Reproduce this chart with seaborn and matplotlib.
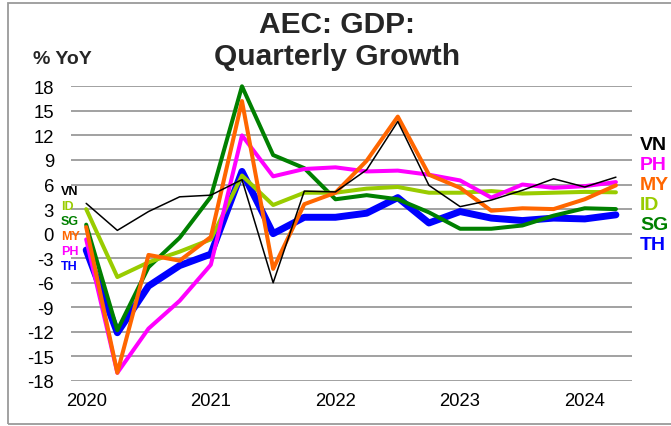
import numpy as np
import pandas as pd
import seaborn as sns
import matplotlib.pyplot as plt
from matplotlib.patches import Rectangle

# quarterly GDP growth, % YoY, 2020Q1 .. 2024Q2
quarters = [f"{y}Q{q}" for y in range(2020, 2025) for q in range(1, 5)][:18]
vn = [3.7, 0.4, 2.7, 4.5, 4.7, 6.6, -6.0, 5.2, 5.1, 7.8, 13.7, 5.9, 3.3, 4.1, 5.3, 6.7, 5.7, 6.9]
ph = [-0.7, -17.0, -11.6, -8.2, -3.8, 12.0, 7.0, 7.9, 8.1, 7.6, 7.7, 7.2, 6.5, 4.4, 6.0, 5.6, 5.8, 6.3]
my = [0.8, -17.0, -2.6, -3.3, -0.4, 16.2, -4.3, 3.6, 5.0, 8.9, 14.3, 7.2, 5.6, 2.8, 3.1, 3.0, 4.2, 5.9]
idn = [3.0, -5.3, -3.5, -2.2, -0.7, 7.1, 3.5, 5.0, 5.0, 5.5, 5.7, 5.0, 5.0, 5.2, 4.9, 5.0, 5.1, 5.05]
sg = [1.1, -11.8, -4.1, -0.5, 4.5, 18.0, 9.6, 8.0, 4.2, 4.7, 4.2, 2.6, 0.6, 0.6, 1.0, 2.2, 3.1, 3.0]
th = [-2.0, -12.1, -6.4, -3.9, -2.5, 7.6, 0.0, 2.0, 2.0, 2.5, 4.4, 1.3, 2.7, 1.9, 1.6, 1.9, 1.8, 2.3]

year_labels = ["2020", "2021", "2022", "2023", "2024"]
y_ticks = list(range(-18, 19, 3))

series = {"VN": vn, "PH": ph, "MY": my, "ID": idn, "SG": sg, "TH": th}
colors = {"VN": "#000000", "PH": "#FF00FF", "MY": "#FF6600",
          "ID": "#99CC00", "SG": "#008000", "TH": "#0000FF"}
widths = {"VN": 1.1, "PH": 2.9, "MY": 2.9, "ID": 2.9, "SG": 2.9, "TH": 5.0}
draw_order = ["TH", "SG", "ID", "PH", "MY", "VN"]
right_order = ["VN", "PH", "MY", "ID", "SG", "TH"]
left_order = ["VN", "ID", "SG", "MY", "PH", "TH"]

df = pd.DataFrame(series)
df["x"] = np.arange(len(quarters))

sns.set_style("white")
plt.rcParams["font.family"] = ["Liberation Sans", "DejaVu Sans"]

W, H = 671, 427
fig = plt.figure(figsize=(W / 100, H / 100), dpi=100)
ax = fig.add_axes([70.6 / W, 1 - 382 / H, (631.5 - 70.6) / W, (382 - 87.3) / H])

for name in draw_order:
    sns.lineplot(data=df, x="x", y=name, ax=ax, color=colors[name],
                 linewidth=widths[name], clip_on=False, zorder=3)

ax.set_xlim(-0.5, len(quarters) - 0.5)
ax.set_ylim(-18, 18)
ax.set_yticks(y_ticks)
ax.set_yticklabels([str(t) for t in y_ticks])
ax.set_xticks(np.arange(0, len(quarters), 4))
ax.set_xticklabels(year_labels)
ax.set_xlabel("")
ax.set_ylabel("")
ax.tick_params(axis="both", length=0, labelsize=13.3, colors="black")
ax.tick_params(axis="y", pad=12)
ax.tick_params(axis="x", pad=8)
ax.yaxis.grid(True, color="#9a9a9a", linewidth=1.3)
ax.set_axisbelow(True)
for s in ax.spines.values():
    s.set_visible(False)

# outer frame
fig.patches.append(Rectangle((7.5 / W, 1 - 425 / H), (W + 5 - 7.5) / W, (425 - 3.5) / H,
                             transform=fig.transFigure, fill=False,
                             edgecolor="#9a9a9a", linewidth=1.3))

fig.text(337 / W, 1 - 25 / H, "AEC: GDP:", ha="center", va="center",
         fontsize=21.5, fontweight="bold")
fig.text(337 / W, 1 - 57 / H, "Quarterly Growth", ha="center", va="center",
         fontsize=21.5, fontweight="bold")
fig.text(33 / W, 1 - 60 / H, "% YoY", ha="left", va="center",
         fontsize=14, fontweight="bold")

# series labels, left (start) and right (end)
for i, name in enumerate(left_order):
    fig.text(61 / W, 1 - (192.5 + i * 14.8) / H, name, ha="left", va="center",
             fontsize=9, fontweight="bold", color=colors[name])
for i, name in enumerate(right_order):
    fig.text(640 / W, 1 - (146 + i * 19.9) / H, name, ha="left", va="center",
             fontsize=14, fontweight="bold", color=colors[name])

fig.savefig("out.png", dpi=100)
